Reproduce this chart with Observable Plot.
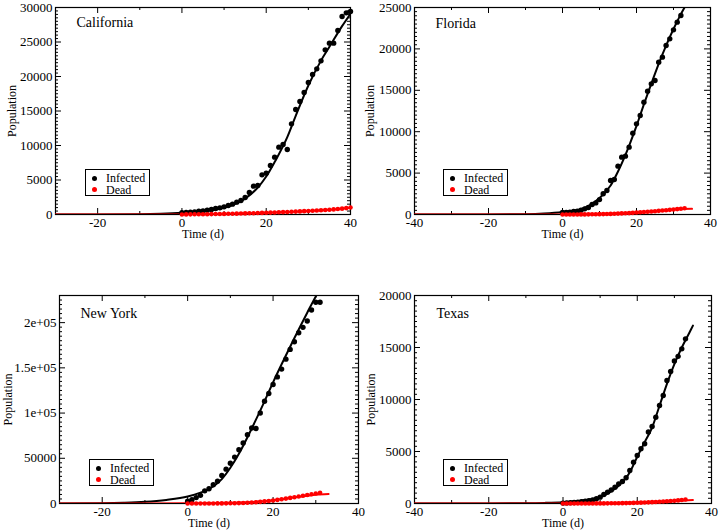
<!DOCTYPE html>
<html><head><meta charset="utf-8">
<script src="https://cdn.jsdelivr.net/npm/d3@7"></script>
<script src="https://cdn.jsdelivr.net/npm/@observablehq/plot@0.6"></script>
<style>
body{margin:0;background:#fff;}
#wrap{position:relative;width:720px;height:531px;overflow:hidden;font-family:"Liberation Serif","Times New Roman",Times,serif;}
.panel{position:absolute;}
.legend{position:absolute;border:1px solid #000;background:#fff;box-sizing:border-box;font-size:12px;color:#000;}
.row{position:absolute;white-space:nowrap;line-height:12px;height:12px;}
.dot{position:absolute;width:5px;height:5px;border-radius:50%;}
</style></head><body><div id="wrap"></div><script>
// ---------- tick labels ----------
const xTicks = [-40, -20, 0, 20, 40];
const xLabels = ["-40", "-20", "0", "20", "40"];
const caYTicks = [0, 5000, 10000, 15000, 20000, 25000, 30000];
const caYLabels = ["0", "5000", "10000", "15000", "20000", "25000", "30000"];
const flYTicks = [0, 5000, 10000, 15000, 20000, 25000];
const flYLabels = ["0", "5000", "10000", "15000", "20000", "25000"];
const nyYTicks = [0, 50000, 100000, 150000, 200000];
const nyYLabels = ["0", "50000", "1e+05", "1.5e+05", "2e+05"];
const txYTicks = [0, 5000, 10000, 15000, 20000];
const txYLabels = ["0", "5000", "10000", "15000", "20000"];
const seriesNames = ["Infected", "Dead"];
const seriesColors = ["#000000", "#ff0000"];

// ---------- California ----------
const caDays = [0,1,2,3,4,5,6,7,8,9,10,11,12,13,14,15,16,17,18,19,20,21,22,23,24,25,26,27,28,29,30,31,32,33,34,35,36,37,38,39,40];
const caInfected = [246,290,338,386,483,531,628,725,870,966,1111,1304,1497,1787,2029,2464,3188,4106,4203,5749,5990,7101,8309,9758,10145,9420,13140,15217,16377,17681,19130,20290,21111,22270,23865,24831,24831,26667,28696,29227,29420];
const caDead = [10,14,20,26,30,38,44,55,64,76,90,100,112,125,140,156,172,190,212,230,255,276,300,322,346,372,396,422,450,482,510,542,576,612,650,692,740,792,850,930,1010];
const caFitT = [-30,-20,-10,-5,0,5,10,15,18,20,22,25,27,30,33,35,38,40];
const caFitInfected = [0,5,40,110,250,500,980,2300,3900,5500,7600,11200,14300,18700,22300,24300,27300,29100];
const caFitDeadT = [-30,-10,0,10,20,30,35,40];
const caFitDead = [0,2,10,80,240,500,690,1000];

// ---------- Florida ----------
const flDays = [0,1,2,3,4,5,6,7,8,9,10,11,12,13,14,15,16,17,18,19,20,21,22,23,24,25,26,27,28,29,30,31,32];
const flInfected = [240,260,290,360,400,520,680,850,1200,1400,1800,2500,2900,4106,4227,5837,6924,7045,8132,9823,10950,11957,13567,14895,15781,16184,18398,19002,20411,21216,22303,23228,24034];
const flDeadDays = [0,1,2,3,4,5,6,7,8,9,10,11,12,13,14,15,16,17,18,19,20,21,22,23,24,25,26,27,28,29,30,31,32,33];
const flDead = [2,3,5,7,9,12,15,20,25,32,40,50,60,75,90,110,130,150,170,200,240,270,300,340,370,400,440,480,520,560,600,650,700,760];
const flFitT = [-40,-30,-20,-10,-5,0,5,10,13,15,18,20,22,24,26,28,30,32,34];
const flFitInfected = [0,2,15,45,120,300,650,2000,3500,5200,8300,10700,13300,15800,18200,20400,22400,24200,25800];
const flFitDeadT = [-40,-10,0,10,20,25,30,32,35];
const flFitDead = [0,1,10,55,230,390,590,660,680];

// ---------- New York ----------
const nyDays = [0,1,2,3,4,5,6,7,8,9,10,11,12,13,14,15,16,17,18,19,20,21,22,23,24,25,26,27,28,29,30,31];
const nyInfected = [2500,4100,6500,9000,14000,16300,20700,24700,31000,38000,44500,51300,59500,67000,76000,83500,83000,100000,113000,121600,131600,140000,148600,159600,170400,178800,188800,194800,201800,214000,222500,222500];
const nyDead = [5,10,15,25,35,50,70,95,130,180,250,330,450,600,800,1100,1400,1800,2300,2800,3300,4000,4700,5400,6200,6900,7800,8600,9400,10200,11000,11800];
const nyFitT = [-30,-20,-15,-10,-5,0,3,5,8,10,12,15,18,20,22,25,28,30,31];
const nyFitInfected = [100,400,900,1900,4000,7700,12000,16000,27000,39500,55000,83000,113000,134000,154000,183000,211000,229000,237000];
const nyFitDeadT = [-30,-10,0,10,15,20,25,30,33];
const nyFitDead = [0,30,150,800,1700,3700,6800,9800,10500];

// ---------- Texas ----------
const txDays = [0,1,2,3,4,5,6,7,8,9,10,11,12,13,14,15,16,17,18,19,20,21,22,23,24,25,26,27,28,29,30,31,32,33];
const txInfected = [40,60,80,100,130,170,210,280,350,450,610,865,1090,1310,1570,1890,2115,2470,3170,3970,4620,5260,5740,6870,7400,8300,9420,10380,11830,12700,13700,14150,14870,15830];
const txDead = [0,0,1,1,2,3,4,5,6,8,10,12,15,18,22,27,34,40,50,60,70,80,95,110,130,150,170,190,210,240,270,300,330,380];
const txFitT = [-40,-20,-10,-5,0,5,10,13,15,18,20,22,24,26,28,30,32,34,35];
const txFitInfected = [0,5,25,60,130,280,600,1150,1700,3000,4500,5900,7300,9400,11500,13400,15000,16400,17100];
const txFitDeadT = [-40,0,10,20,25,30,35];
const txFitDead = [0,5,30,100,160,250,340];

const wrap = document.getElementById("wrap");
const pts = (xs, ys) => xs.map((t, i) => ({t, v: ys[i]}));
const xFmt = new Map(xTicks.map((v, i) => [v, xLabels[i]]));

function panel(c) {
  const {w, h, m} = c;
  const fw = w - m.left - m.right, fh = h - m.top - m.bottom;
  const xMajor = xTicks.filter(v => v >= c.xDomain[0] && v <= c.xDomain[1]);
  const xMinor = d3.range(c.xDomain[0], c.xDomain[1] + 0.001, 10).filter(v => !xMajor.includes(v));
  const yMinor = d3.range(c.yDomain[0], c.yDomain[1] + 0.001, c.yMinorStep).filter(v => !c.yTicks.includes(v));
  const fmt = new Map(c.yTicks.map((v, i) => [v, c.yLabels[i]]));
  const svg = Plot.plot({
    width: w, height: h,
    marginTop: m.top, marginRight: m.right, marginBottom: m.bottom, marginLeft: m.left,
    style: {fontFamily: "'Liberation Serif', 'Times New Roman', Times, serif", fontSize: "13px", background: "transparent", overflow: "visible", color: "#000"},
    x: {domain: c.xDomain, ticks: xMajor, tickSize: 0, tickPadding: 3, tickFormat: v => xFmt.get(v), label: null},
    y: {domain: c.yDomain, ticks: c.yTicks, tickSize: 0, tickPadding: 3, tickFormat: v => fmt.get(v), label: null},
    marks: [
      Plot.frame({stroke: "#000", strokeWidth: 1.2}),
      Plot.ruleX(xMajor, {insetTop: fh - 6, stroke: "#000"}),
      Plot.ruleX(xMajor, {insetBottom: fh - 6, stroke: "#000"}),
      Plot.ruleX(xMinor, {insetTop: fh - 3, stroke: "#000"}),
      Plot.ruleX(xMinor, {insetBottom: fh - 3, stroke: "#000"}),
      Plot.ruleY(c.yTicks, {insetRight: fw - 6, stroke: "#000"}),
      Plot.ruleY(c.yTicks, {insetLeft: fw - 6, stroke: "#000"}),
      Plot.ruleY(yMinor, {insetRight: fw - 3, stroke: "#000"}),
      Plot.ruleY(yMinor, {insetLeft: fw - 3, stroke: "#000"}),
      Plot.line(pts(c.fitT, c.fitInf), {x: "t", y: "v", stroke: seriesColors[0], strokeWidth: 2, curve: "monotone-x", clip: true}),
      Plot.line(pts(c.fitDeadT, c.fitDead), {x: "t", y: "v", stroke: seriesColors[1], strokeWidth: 2, curve: "monotone-x", clip: true}),
      Plot.dot(pts(c.days, c.infected), {x: "t", y: "v", r: 2.7, fill: seriesColors[0], stroke: "none"}),
      Plot.dot(pts(c.deadDays || c.days, c.dead), {x: "t", y: "v", r: 2.3, fill: seriesColors[1], stroke: "none"}),
      Plot.text([c.title], {text: d => d, frameAnchor: "top-left", dx: c.titleDx, dy: c.titleDy, lineAnchor: "top", textAnchor: "start", fontSize: 14, fill: "#000"}),
      Plot.text(["Population"], {text: d => d, frameAnchor: "left", dx: c.popDx, rotate: -90, textAnchor: "middle", lineAnchor: "middle", fontSize: 12, fill: "#000"}),
      Plot.text(["Time (d)"], {text: d => d, frameAnchor: "bottom", dy: 15, lineAnchor: "top", textAnchor: "middle", fontSize: 12, fill: "#000"})
    ]
  });
  const div = document.createElement("div");
  div.className = "panel";
  div.style.left = c.left + "px";
  div.style.top = c.top + "px";
  div.appendChild(svg);
  wrap.appendChild(div);

  const lg = document.createElement("div");
  lg.className = "legend";
  Object.assign(lg.style, {left: c.legend[0] + "px", top: c.legend[1] + "px", width: "65px", height: "27px"});
  seriesNames.forEach((name, i) => {
    const row = document.createElement("div");
    row.className = "row";
    row.style.top = (2 + i * 11.6) + "px";
    row.style.left = "0px";
    const dot = document.createElement("span");
    dot.className = "dot";
    Object.assign(dot.style, {background: seriesColors[i], left: "6px", top: "3.5px"});
    const txt = document.createElement("span");
    txt.textContent = name;
    txt.style.position = "absolute";
    txt.style.left = "20px";
    txt.style.top = "0px";
    row.appendChild(dot);
    row.appendChild(txt);
    lg.appendChild(row);
  });
  wrap.appendChild(lg);
}

panel({title: "California", left: 0, top: 0, w: 360, h: 245, m: {top: 7, right: 10, bottom: 31, left: 55},
  xDomain: [-30, 40], yDomain: [0, 30000], yTicks: caYTicks, yLabels: caYLabels, yMinorStep: 500,
  days: caDays, infected: caInfected, dead: caDead, fitT: caFitT, fitInf: caFitInfected, fitDeadT: caFitDeadT, fitDead: caFitDead,
  titleDx: 21, titleDy: 10, popDx: -43.5, legend: [85, 169]});

panel({title: "Florida", left: 360, top: 0, w: 360, h: 245, m: {top: 7, right: 10, bottom: 31, left: 54},
  xDomain: [-40, 40], yDomain: [0, 25000], yTicks: flYTicks, yLabels: flYLabels, yMinorStep: 500,
  days: flDays, infected: flInfected, deadDays: flDeadDays, dead: flDead, fitT: flFitT, fitInf: flFitInfected, fitDeadT: flFitDeadT, fitDead: flFitDead,
  titleDx: 21, titleDy: 11, popDx: -44, legend: [443, 169]});

panel({title: "New York", left: 0, top: 250, w: 360, h: 281, m: {top: 45, right: 2, bottom: 28, left: 59},
  xDomain: [-30, 40], yDomain: [0, 230000], yTicks: nyYTicks, yLabels: nyYLabels, yMinorStep: 5000,
  days: nyDays, infected: nyInfected, dead: nyDead, fitT: nyFitT, fitInf: nyFitInfected, fitDeadT: nyFitDeadT, fitDead: nyFitDead,
  titleDx: 21, titleDy: 12.5, popDx: -51.5, legend: [89, 459]});

panel({title: "Texas", left: 360, top: 250, w: 360, h: 281, m: {top: 45, right: 9, bottom: 28, left: 54},
  xDomain: [-40, 40], yDomain: [0, 20000], yTicks: txYTicks, yLabels: txYLabels, yMinorStep: 500,
  days: txDays, infected: txInfected, dead: txDead, fitT: txFitT, fitInf: txFitInfected, fitDeadT: txFitDeadT, fitDead: txFitDead,
  titleDx: 22, titleDy: 12.5, popDx: -43, legend: [443, 459]});
</script></body></html>
